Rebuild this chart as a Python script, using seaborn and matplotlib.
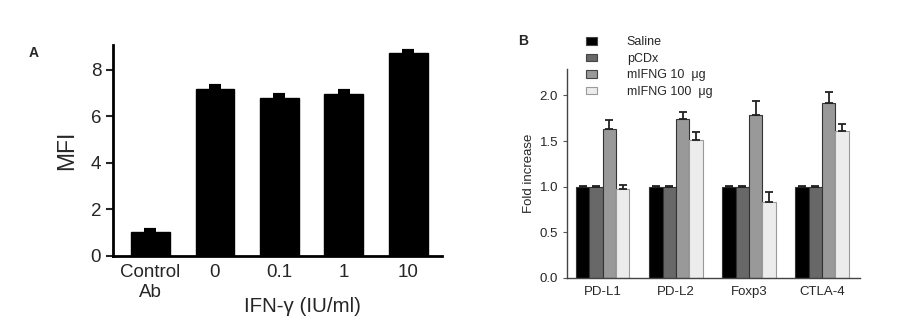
import matplotlib
matplotlib.use("Agg")
import matplotlib.pyplot as plt
import seaborn as sns
import pandas as pd
import numpy as np
from matplotlib.patches import Patch

# ---- Panel A data ----
a_categories = ["Control\nAb", "0", "0.1", "1", "10"]
a_values = [1.05, 7.15, 6.80, 6.95, 8.72]
a_errors = [0.08, 0.15, 0.12, 0.13, 0.07]

# ---- Panel B data ----
b_genes = ["PD-L1", "PD-L2", "Foxp3", "CTLA-4"]
b_groups = ["Saline", "pCDx", "mIFNG 10  \u03bcg", "mIFNG 100  \u03bcg"]
b_saline = [1.0, 1.0, 1.0, 1.0]
b_pcdx = [1.0, 1.0, 1.0, 1.0]
b_ifng10 = [1.63, 1.74, 1.79, 1.92]
b_ifng100 = [0.97, 1.51, 0.83, 1.61]
b_err_saline = [0.01, 0.01, 0.01, 0.01]
b_err_pcdx = [0.01, 0.01, 0.01, 0.01]
b_err_ifng10 = [0.10, 0.08, 0.15, 0.12]
b_err_ifng100 = [0.05, 0.09, 0.11, 0.08]

sns.set_theme(style="ticks")
plt.rcParams["font.family"] = ["Liberation Sans", "DejaVu Sans"]

fig = plt.figure(figsize=(9, 3.24), dpi=100)

# ---------------- Panel A ----------------
axA = fig.add_axes([0.1256, 0.2099, 0.366, 0.651])
dfA = pd.DataFrame({"cat": a_categories, "val": a_values})
sns.barplot(data=dfA, x="cat", y="val", color="black", width=0.6,
            errorbar=None, ax=axA, saturation=1)
for p in axA.patches:
    p.set_edgecolor("black")
xs = [p.get_x() + p.get_width() / 2 for p in axA.patches]
axA.errorbar(xs, a_values, yerr=[np.zeros(len(a_errors)), a_errors],
             fmt="none", ecolor="black", elinewidth=2, capsize=4, capthick=3)
axA.set_ylim(0, 9.05)
axA.set_xlim(-0.58, 4.53)
axA.set_yticks([0, 2, 4, 6, 8])
axA.set_ylabel("MFI", fontsize=16.5, labelpad=9)
axA.set_xlabel("")
axA.tick_params(axis="y", labelsize=13.5, width=1.5, length=5, direction="out")
axA.tick_params(axis="x", labelsize=13.5, length=0, pad=6)
for s in ["top", "right"]:
    axA.spines[s].set_visible(False)
for s in ["left", "bottom"]:
    axA.spines[s].set_linewidth(2)
    axA.spines[s].set_color("black")
axA.text(0.575, -0.195, "IFN-\u03b3 (IU/ml)", transform=axA.transAxes,
         ha="center", va="top", fontsize=14.8)
fig.text(0.037, 0.835, "A", fontsize=10, fontweight="bold", ha="center", va="center")

# ---------------- Panel B ----------------
axB = fig.add_axes([0.63, 0.1429, 0.3256, 0.644])
colors = ["#000000", "#686868", "#999999", "#ececec"]
vals = [b_saline, b_pcdx, b_ifng10, b_ifng100]
errs = [b_err_saline, b_err_pcdx, b_err_ifng10, b_err_ifng100]
rows = []
for g, v in zip(b_groups, vals):
    for gene, x in zip(b_genes, v):
        rows.append({"gene": gene, "group": g, "val": x})
dfB = pd.DataFrame(rows)
sns.barplot(data=dfB, x="gene", y="val", hue="group", hue_order=b_groups,
            palette=colors, width=0.73, errorbar=None, ax=axB, saturation=1,
            legend=False)
patches = axB.patches
for i, (v, e) in enumerate(zip(vals, errs)):
    grp = patches[i * 4:(i + 1) * 4]
    for p in grp:
        p.set_edgecolor("#9a9a9a" if i == 3 else "#333333")
        p.set_linewidth(0.8)
    xs = [p.get_x() + p.get_width() / 2 for p in grp]
    axB.errorbar(xs, v, yerr=[np.zeros(4), e], fmt="none", ecolor="#222222",
                 elinewidth=1.3, capsize=3, capthick=1.3)
axB.set_ylim(0, 2.29)
axB.set_xlim(-0.49, 3.52)
axB.set_yticks([0, 0.5, 1.0, 1.5, 2.0])
axB.set_yticklabels(["0.0", "0.5", "1.0", "1.5", "2.0"])
axB.set_ylabel("Fold increase", fontsize=9.5, labelpad=3)
axB.set_xlabel("")
axB.tick_params(axis="y", labelsize=9.5, width=0.8, length=3, color="#555555")
axB.tick_params(axis="x", labelsize=9.5, length=0, pad=6)
for s in ["top", "right"]:
    axB.spines[s].set_visible(False)
for s in ["left", "bottom"]:
    axB.spines[s].set_linewidth(1.0)
    axB.spines[s].set_color("#444444")

handles = [Patch(facecolor=c, edgecolor=("#9a9a9a" if i == 3 else "#444444"), linewidth=0.8)
           for i, c in enumerate(colors)]
fig.legend(handles, b_groups, loc="upper left", bbox_to_anchor=(0.645, 0.903),
           frameon=False, fontsize=9, handlelength=0.9, handleheight=0.6,
           handletextpad=2.4, labelspacing=0.36, borderaxespad=0)
fig.text(0.581, 0.873, "B", fontsize=10, fontweight="bold", ha="center", va="center")

fig.savefig("out.png", dpi=100)
